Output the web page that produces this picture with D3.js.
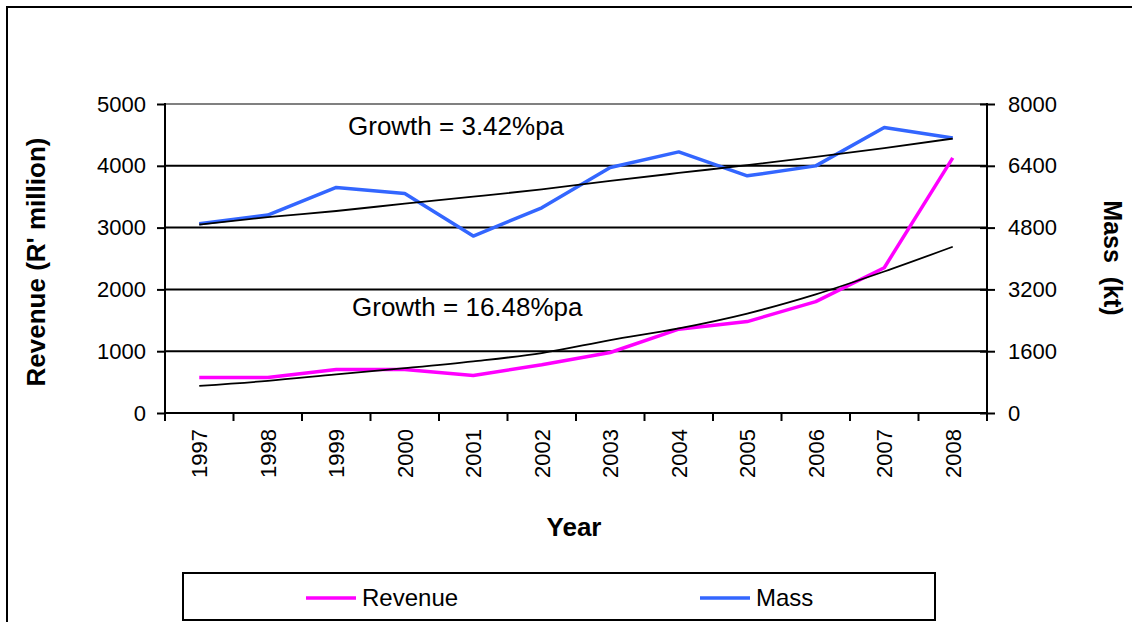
<!DOCTYPE html>
<html>
<head>
<meta charset="utf-8">
<script src="https://cdn.jsdelivr.net/npm/d3@7"></script>
<style>
  body { margin: 0; background: #fff; }
  text { font-family: "Liberation Sans", Arial, sans-serif; fill: #000; }
</style>
</head>
<body>
<div id="chart"></div>
<script>
var years = ["1997","1998","1999","2000","2001","2002","2003","2004","2005","2006","2007","2008"];
var revenue = [575, 575, 704, 704, 607, 780, 979, 1357, 1479, 1802, 2351, 4128];
var mass = [4899, 5124, 5840, 5685, 4581, 5313, 6357, 6760, 6140, 6398, 7390, 7121];
// trend lines
var revenueTrend = [440, 520, 625, 725, 835, 970, 1180, 1370, 1610, 1920, 2290, 2690];
var massTrend = [4880, 5070, 5230, 5420, 5600, 5790, 6010, 6215, 6415, 6630, 6860, 7105];
var leftTicks = [0, 1000, 2000, 3000, 4000, 5000];
var rightTicks = [0, 1600, 3200, 4800, 6400, 8000];

var width = 1132, height = 622;
var plot = {left: 165, right: 987, top: 104, bottom: 413};

var svg = d3.select("#chart").append("svg")
    .attr("width", width)
    .attr("height", height);

// outer frame (runs off the right and bottom)
svg.append("rect")
    .attr("x", 7).attr("y", 7)
    .attr("width", 1300).attr("height", 800)
    .attr("fill", "none").attr("stroke", "#000").attr("stroke-width", 2);

var x = d3.scaleBand().domain(years).range([plot.left, plot.right]);
var yL = d3.scaleLinear().domain([0, 5000]).range([plot.bottom, plot.top]);
var yR = d3.scaleLinear().domain([0, 8000]).range([plot.bottom, plot.top]);

// gridlines
svg.append("g").selectAll("line")
    .data(leftTicks.filter(function(d) { return d > 0 && d < 5000; }))
    .enter().append("line")
    .attr("x1", plot.left).attr("x2", plot.right)
    .attr("y1", function(d) { return yL(d); })
    .attr("y2", function(d) { return yL(d); })
    .attr("stroke", "#000").attr("stroke-width", 2);

// plot area top border
svg.append("line")
    .attr("x1", plot.left).attr("x2", plot.right)
    .attr("y1", yL(5000)).attr("y2", yL(5000))
    .attr("stroke", "#808080").attr("stroke-width", 2);

// left axis
var leftAxis = svg.append("g")
    .attr("transform", "translate(" + plot.left + ",0)")
    .call(d3.axisLeft(yL).tickValues(leftTicks).tickSize(8).tickPadding(11).tickFormat(d3.format("d")));
// right axis
var rightAxis = svg.append("g")
    .attr("transform", "translate(" + plot.right + ",0)")
    .call(d3.axisRight(yR).tickValues(rightTicks).tickSize(8).tickPadding(13).tickFormat(d3.format("d")));
rightAxis.selectAll(".tick line").attr("x1", -7);

[leftAxis, rightAxis].forEach(function(a) {
  a.select(".domain").remove();
  a.selectAll(".tick line").attr("stroke", "#000").attr("stroke-width", 2);
  a.selectAll(".tick text").style("font-size", "22px").style("fill", "#000")
    .attr("font-family", null);
});
svg.append("line").attr("x1", plot.left).attr("x2", plot.left)
    .attr("y1", plot.top - 1).attr("y2", plot.bottom + 1)
    .attr("stroke", "#000").attr("stroke-width", 2);
svg.append("line").attr("x1", plot.right).attr("x2", plot.right)
    .attr("y1", plot.top - 1).attr("y2", plot.bottom + 1)
    .attr("stroke", "#000").attr("stroke-width", 2);

// x axis (category boundaries)
svg.append("line").attr("x1", plot.left).attr("x2", plot.right)
    .attr("y1", plot.bottom).attr("y2", plot.bottom)
    .attr("stroke", "#000").attr("stroke-width", 2);
var bounds = years.map(function(d) { return x(d); }).concat([plot.right]);
svg.append("g").selectAll("line")
    .data(bounds)
    .enter().append("line")
    .attr("x1", function(d) { return d; }).attr("x2", function(d) { return d; })
    .attr("y1", plot.bottom).attr("y2", plot.bottom + 8)
    .attr("stroke", "#000").attr("stroke-width", 2);

svg.append("g").selectAll("text")
    .data(years)
    .enter().append("text")
    .attr("transform", function(d) {
      return "translate(" + (x(d) + x.bandwidth() / 2 + 8) + "," + (plot.bottom + 16) + ") rotate(-90)";
    })
    .attr("text-anchor", "end")
    .style("font-size", "22px")
    .text(function(d) { return d; });

// series
function lineFor(scale) {
  return d3.line()
    .x(function(d, i) { return x(years[i]) + x.bandwidth() / 2; })
    .y(function(d) { return scale(d); });
}

svg.append("path").datum(mass)
    .attr("d", lineFor(yR))
    .attr("fill", "none").attr("stroke", "#3366FF").attr("stroke-width", 3.5)
    .attr("stroke-linejoin", "round");
svg.append("path").datum(revenue)
    .attr("d", lineFor(yL))
    .attr("fill", "none").attr("stroke", "#FF00FF").attr("stroke-width", 3.5)
    .attr("stroke-linejoin", "round");

svg.append("path").datum(massTrend)
    .attr("d", lineFor(yR).curve(d3.curveMonotoneX))
    .attr("fill", "none").attr("stroke", "#000").attr("stroke-width", 1.8);
svg.append("path").datum(revenueTrend)
    .attr("d", lineFor(yL).curve(d3.curveMonotoneX))
    .attr("fill", "none").attr("stroke", "#000").attr("stroke-width", 1.8);

// annotations
svg.append("text").attr("x", 348).attr("y", 135)
    .style("font-size", "26px")
    .text("Growth = 3.42%pa");
svg.append("text").attr("x", 352).attr("y", 316)
    .style("font-size", "26px")
    .text("Growth = 16.48%pa");

// axis titles
svg.append("text")
    .attr("transform", "translate(45,262) rotate(-90)")
    .attr("text-anchor", "middle")
    .style("font-size", "26px").style("font-weight", "bold")
    .text("Revenue (R' million)");
svg.append("text")
    .attr("transform", "translate(1104,258) rotate(90)")
    .attr("text-anchor", "middle")
    .style("font-size", "25px").style("font-weight", "bold")
    .style("white-space", "pre")
    .text("Mass  (kt)");
svg.append("text")
    .attr("x", 574).attr("y", 536)
    .attr("text-anchor", "middle")
    .style("font-size", "26px").style("font-weight", "bold")
    .text("Year");

// legend
var legendItems = [
  {name: "Revenue", color: "#FF00FF", x: 306},
  {name: "Mass", color: "#3366FF", x: 700}
];
svg.append("rect")
    .attr("x", 183).attr("y", 573)
    .attr("width", 752).attr("height", 47)
    .attr("fill", "none").attr("stroke", "#000").attr("stroke-width", 2);
var li = svg.append("g").selectAll("g")
    .data(legendItems)
    .enter().append("g")
    .attr("transform", function(d) { return "translate(" + d.x + ",598)"; });
li.append("line")
    .attr("x1", 0).attr("x2", 50)
    .attr("stroke", function(d) { return d.color; })
    .attr("stroke-width", 3.5);
li.append("text")
    .attr("x", 56).attr("y", 8)
    .style("font-size", "24px")
    .text(function(d) { return d.name; });
</script>
</body>
</html>
